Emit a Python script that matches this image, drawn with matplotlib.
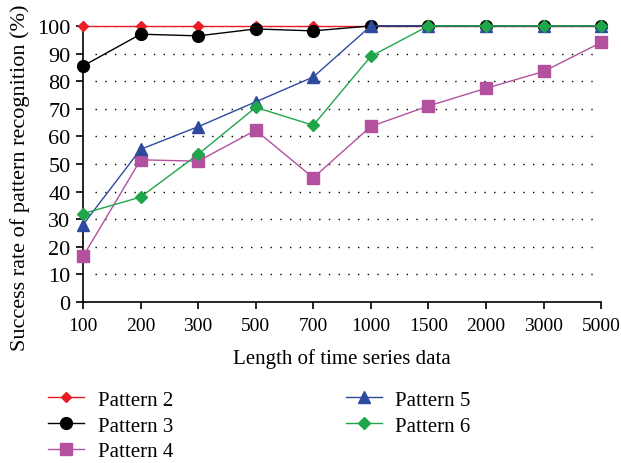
import matplotlib.pyplot as plt

plt.rcParams['font.family'] = ['Liberation Serif', 'DejaVu Serif']

# lengths of the series (categorical x axis)
lengths = ['100', '200', '300', '500', '700', '1000', '1500', '2000', '3000', '5000']

# success rates per pattern (%)
pattern2 = [100, 100, 100, 100, 100, 100, 100, 100, 100, 100]
pattern3 = [85.5, 97, 96.4, 98.9, 98.2, 100, 100, 100, 100, 100]
pattern4 = [16.5, 51.5, 51, 62.2, 45, 63.6, 71, 77.4, 83.5, 94]
pattern5 = [28, 55.3, 63.5, 72.5, 81.5, 100, 100, 100, 100, 100]
pattern6 = [32, 38, 53.5, 70.5, 64, 89, 100, 100, 100, 100]

fig = plt.figure(figsize=(6.21, 4.64), dpi=100)
ax = fig.add_axes([0.1337, 0.347, 0.8343, 0.595])

x = range(len(lengths))
ax.plot(x, pattern2, color='#ED1C24', marker='D', markersize=5, lw=1, label='Pattern 2', clip_on=False, zorder=3)
ax.plot(x, pattern3, color='black', marker='o', markersize=8.5, lw=1, label='Pattern 3', clip_on=False, zorder=3)
ax.plot(x, pattern4, color='#B4519F', marker='s', markersize=8.5, lw=1, label='Pattern 4', clip_on=False, zorder=3)
ax.plot(x, pattern5, color='#2E4A9E', marker='^', markersize=8, lw=1, label='Pattern 5', clip_on=False, zorder=3)
ax.plot(x, pattern6, color='#1FA64A', marker='D', markersize=6, lw=1, label='Pattern 6', clip_on=False, zorder=3)

ax.set_xlim(0, len(lengths) - 1)
ax.set_ylim(0, 100)
ax.set_xticks(list(x))
ax.set_xticklabels(lengths)
ax.set_yticks(range(0, 101, 10))

# dotted horizontal guides
for yv in range(10, 101, 10):
    ax.plot([0.2, 8.98], [yv, yv], color='black', lw=1, linestyle=(0, (1, 6)), zorder=1)

for s in ['top', 'right']:
    ax.spines[s].set_visible(False)
ax.spines['left'].set_linewidth(1.2)
ax.spines['bottom'].set_linewidth(1.2)
ax.tick_params(direction='out', length=5, width=1.2)
ax.tick_params(axis='x', labelsize=14, pad=6)
ax.tick_params(axis='y', labelsize=16, pad=4)

ax.set_xlabel('Length of time series data', fontsize=15, labelpad=10)
ax.set_ylabel('Success rate of pattern recognition (%)', fontsize=16)
ax.yaxis.set_label_coords(-0.102, 0.455)

fig.legend(loc='upper left', bbox_to_anchor=(0.078, 0.157), ncol=2, frameon=False,
           fontsize=15, handlelength=1.7, columnspacing=8.3, labelspacing=0.3, handletextpad=0.67,
           borderaxespad=0, borderpad=0)

fig.savefig('out.png', dpi=100)
